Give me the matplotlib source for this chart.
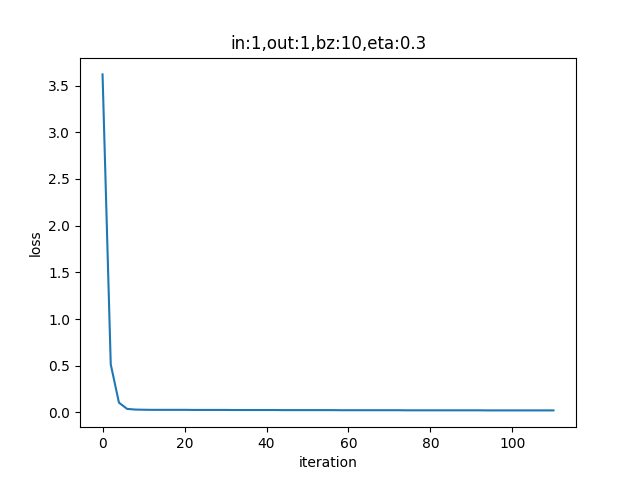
import matplotlib
matplotlib.use('Agg')
import matplotlib.pyplot as plt

# iteraciones registradas cada 2 pasos
iterations = list(range(0, 112, 2))
loss = [3.62, 0.515, 0.105, 0.038, 0.031, 0.029, 0.028, 0.028, 0.028, 0.028,
        0.028, 0.027, 0.027, 0.027, 0.027, 0.027, 0.026, 0.026, 0.026, 0.026,
        0.026, 0.026, 0.025, 0.025, 0.025, 0.025, 0.025, 0.025, 0.025, 0.024,
        0.024, 0.024, 0.024, 0.024, 0.024, 0.024, 0.024, 0.023, 0.023, 0.023,
        0.023, 0.023, 0.023, 0.023, 0.023, 0.023, 0.023, 0.022, 0.022, 0.022,
        0.022, 0.022, 0.022, 0.022, 0.022, 0.022]

fig, ax = plt.subplots(figsize=(6.4, 4.8), dpi=100)
ax.plot(iterations, loss)
ax.set_title('in:1,out:1,bz:10,eta:0.3')
ax.set_xlabel('iteration')
ax.set_ylabel('loss')
fig.savefig('out.png')
